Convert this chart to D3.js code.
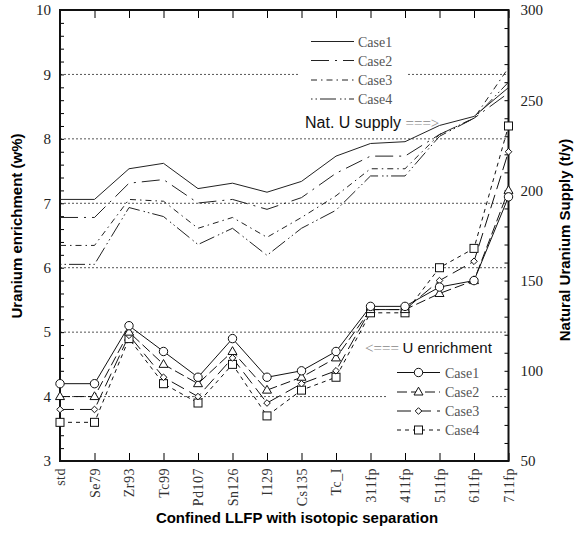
<html>
<head>
<script src="https://d3js.org/d3.v7.min.js"></script>
<style>
body {margin: 0; background: white;}
.num {font-family: "Liberation Serif", serif; font-size: 15px; fill: #222;}
.cat {font-family: "Liberation Serif", serif; font-size: 14px; fill: #333; letter-spacing: 0.5px;}
.title {font-family: "Liberation Sans", Arial, sans-serif; font-size: 15px; font-weight: bold; fill: #000;}
.leg {font-family: "Liberation Serif", serif; font-size: 14px; fill: #555;}
.note {font-family: "Liberation Sans", Arial, sans-serif; fill: #111;}
</style>
</head>
<body>
<svg width="574" height="533"></svg>
<script>

// categories along the x axis
var categories = ["std", "Se79", "Zr93", "Tc99", "Pd107", "Sn126", "I129", "Cs135", "Tc_I", "311fp", "411fp", "511fp", "611fp", "711fp"];

// natural uranium supply (t/y), right axis
var supplyCase1 = [195, 195, 212, 215, 201, 204, 199, 205, 219, 226, 227, 236, 241, 257];
var supplyCase2 = [185, 185, 204, 206, 193, 195, 189.5, 196, 209.5, 219, 219, 231, 240, 254];
var supplyCase3 = [169.5, 169.5, 195, 194, 179, 185, 174, 185, 197, 212, 212, 231, 240, 268];
var supplyCase4 = [159, 159, 190.5, 185.5, 170, 179, 164, 179, 189, 208, 208, 230, 240, 260];

// uranium enrichment (w%), left axis
var enrichCase1 = [4.2, 4.2, 5.1, 4.7, 4.3, 4.9, 4.3, 4.4, 4.7, 5.4, 5.4, 5.7, 5.8, 7.1];
var enrichCase2 = [4.0, 4.0, 5.0, 4.5, 4.2, 4.7, 4.1, 4.3, 4.6, 5.35, 5.35, 5.6, 5.8, 7.2];
var enrichCase3 = [3.8, 3.8, 4.95, 4.3, 4.0, 4.6, 3.9, 4.2, 4.4, 5.35, 5.35, 5.8, 6.1, 7.8];
var enrichCase4 = [3.6, 3.6, 4.9, 4.2, 3.9, 4.5, 3.7, 4.1, 4.3, 5.3, 5.3, 6.0, 6.3, 8.2];

var caseNames = ["Case1", "Case2", "Case3", "Case4"];

// tick labels
var leftTicks = [3, 4, 5, 6, 7, 8, 9, 10];
var rightTicks = [50, 100, 150, 200, 250, 300];
var gridValues = [4, 5, 6, 7, 8, 9];

var plotL = 60, plotR = 508.5, plotT = 10, plotB = 461;
var svg = d3.select("svg");

var x = d3.scalePoint().domain(categories).range([plotL, plotR]);
var yL = d3.scaleLinear().domain([3, 10]).range([plotB, plotT]);
var yR = d3.scaleLinear().domain([50, 300]).range([plotB, plotT]);

var supplyDash = [null, "18,6,2,6", "6,4,1.5,4", "1.5,3,1.5,3,16,4"];
var enrichDash = [null, "10,4", "14,6", "4,4"];

// dotted grid lines
svg.append("g").selectAll("line")
  .data(gridValues)
  .enter().append("line")
    .attr("x1", plotL).attr("x2", plotR)
    .attr("y1", function(d) { return yL(d); })
    .attr("y2", function(d) { return yL(d); })
    .attr("stroke", "#555")
    .attr("stroke-width", 1)
    .attr("stroke-dasharray", "2,2");

// legend backgrounds cut the grid lines
svg.append("rect").attr("x", 298).attr("y", 28).attr("width", 109).attr("height", 80).attr("fill", "white");
svg.append("rect").attr("x", 388).attr("y", 337).attr("width", 104).attr("height", 104).attr("fill", "white");

// minor ticks, left (inward)
var minorLeft = d3.range(3, 10.001, 0.2);
svg.append("g")
  .attr("transform", "translate(" + plotL + ",0)")
  .call(d3.axisRight(yL).tickValues(minorLeft).tickSize(4).tickFormat(""))
  .call(function(g) { g.select(".domain").remove(); });

// minor ticks, right (inward)
var minorRight = d3.range(50, 300.001, 10);
svg.append("g")
  .attr("transform", "translate(" + plotR + ",0)")
  .call(d3.axisLeft(yR).tickValues(minorRight).tickSize(4).tickFormat(""))
  .call(function(g) { g.select(".domain").remove(); });

// category ticks top and bottom
svg.append("g")
  .attr("transform", "translate(0," + plotB + ")")
  .call(d3.axisTop(x).tickSize(8).tickFormat(""))
  .call(function(g) { g.select(".domain").remove(); });
svg.append("g")
  .attr("transform", "translate(0," + plotT + ")")
  .call(d3.axisBottom(x).tickSize(8).tickFormat(""))
  .call(function(g) { g.select(".domain").remove(); });

// left labels
svg.append("g")
  .attr("transform", "translate(" + plotL + ",0)")
  .call(d3.axisLeft(yL).tickValues(leftTicks).tickSize(0).tickPadding(9).tickFormat(d3.format("d")))
  .call(function(g) {
    g.select(".domain").remove();
    g.selectAll("text").attr("class", "num").attr("font-family", null).attr("font-size", null).attr("fill", null);
  });

// right labels
svg.append("g")
  .attr("transform", "translate(" + plotR + ",0)")
  .call(d3.axisRight(yR).tickValues(rightTicks).tickSize(0).tickPadding(12).tickFormat(d3.format("d")))
  .call(function(g) {
    g.select(".domain").remove();
    g.selectAll("text").attr("class", "num").attr("font-family", null).attr("font-size", null).attr("fill", null);
  });

// category labels, rotated
svg.append("g").selectAll("text")
  .data(categories)
  .enter().append("text")
    .attr("class", "cat")
    .attr("transform", function(d) { return "translate(" + (x(d) + 5) + ",468) rotate(-90)"; })
    .attr("text-anchor", "end")
    .text(function(d) { return d; });

// frame
svg.append("rect")
  .attr("x", plotL).attr("y", plotT)
  .attr("width", plotR - plotL).attr("height", plotB - plotT)
  .attr("fill", "none").attr("stroke", "#111").attr("stroke-width", 2);

// supply lines
var supplyLine = d3.line()
  .x(function(d, i) { return x(categories[i]); })
  .y(function(d) { return yR(d); });

[supplyCase1, supplyCase2, supplyCase3, supplyCase4].forEach(function(s, k) {
  svg.append("path")
    .datum(s)
    .attr("fill", "none")
    .attr("stroke", "#222")
    .attr("stroke-width", 1)
    .attr("stroke-dasharray", supplyDash[k])
    .attr("d", supplyLine);
});

// enrichment lines
var enrichLine = d3.line()
  .x(function(d, i) { return x(categories[i]); })
  .y(function(d) { return yL(d); });

var enrichSeries = [enrichCase1, enrichCase2, enrichCase3, enrichCase4];
enrichSeries.forEach(function(s, k) {
  svg.append("path")
    .datum(s)
    .attr("fill", "none")
    .attr("stroke", "#111")
    .attr("stroke-width", 1)
    .attr("stroke-dasharray", enrichDash[k])
    .attr("d", enrichLine);
});

// marker shapes
function marker(g, k, cx, cy) {
  if (k === 0) {
    g.append("circle").attr("cx", cx).attr("cy", cy).attr("r", 4.2);
  } else if (k === 1) {
    g.append("path").attr("d", "M" + cx + "," + (cy - 4.8) + "L" + (cx + 4.5) + "," + (cy + 3) + "L" + (cx - 4.5) + "," + (cy + 3) + "Z");
  } else if (k === 2) {
    g.append("path").attr("d", "M" + cx + "," + (cy - 3.3) + "L" + (cx + 3.3) + "," + cy + "L" + cx + "," + (cy + 3.3) + "L" + (cx - 3.3) + "," + cy + "Z");
  } else {
    g.append("rect").attr("x", cx - 4).attr("y", cy - 4).attr("width", 8).attr("height", 8);
  }
}

var markers = svg.append("g").attr("fill", "white").attr("stroke", "#111").attr("stroke-width", 1);
[3, 2, 1, 0].forEach(function(k) {
  enrichSeries[k].forEach(function(v, i) {
    marker(markers, k, x(categories[i]), yL(v));
  });
});

// upper legend
var upLeg = svg.append("g");
var upY = [41.5, 60.5, 80, 99];
caseNames.forEach(function(name, k) {
  upLeg.append("line")
    .attr("x1", 311).attr("x2", 354)
    .attr("y1", upY[k]).attr("y2", upY[k])
    .attr("stroke", "#222").attr("stroke-width", 1)
    .attr("stroke-dasharray", supplyDash[k]);
  upLeg.append("text").attr("class", "leg")
    .attr("x", 358).attr("y", upY[k] + 5).text(name);
});

// lower legend
var lowLeg = svg.append("g");
var lowY = [372.5, 392, 411, 430];
caseNames.forEach(function(name, k) {
  lowLeg.append("line")
    .attr("x1", 397).attr("x2", 440)
    .attr("y1", lowY[k]).attr("y2", lowY[k])
    .attr("stroke", "#111").attr("stroke-width", 1)
    .attr("stroke-dasharray", enrichDash[k]);
  var mg = lowLeg.append("g").attr("fill", "white").attr("stroke", "#111");
  marker(mg, k, 418.5, lowY[k]);
  lowLeg.append("text").attr("class", "leg")
    .attr("x", 445).attr("y", lowY[k] + 5).text(name);
});

// annotations
var nat = svg.append("text").attr("class", "note").attr("x", 305).attr("y", 128).style("font-size", "16px");
nat.append("tspan").text("Nat. U supply ");
nat.append("tspan").attr("fill", "#888").style("font-family", "Liberation Serif").style("font-size", "15px").text("===>");

var enr = svg.append("text").attr("class", "note").attr("x", 365).attr("y", 353).style("font-size", "15px");
enr.append("tspan").attr("fill", "#888").style("font-family", "Liberation Serif").style("font-size", "15px").text("<=== ");
enr.append("tspan").text("U enrichment");

// axis titles
svg.append("text").attr("class", "title")
  .attr("text-anchor", "middle")
  .attr("x", 297).attr("y", 523)
  .text("Confined LLFP with isotopic separation");

svg.append("text").attr("class", "title")
  .attr("text-anchor", "middle")
  .attr("transform", "translate(22,226) rotate(-90)")
  .text("Uranium enrichment (w%)");

svg.append("text").attr("class", "title")
  .attr("text-anchor", "middle")
  .attr("transform", "translate(570,240) rotate(-90)")
  .text("Natural Uranium Supply (t/y)");

</script>
</body>
</html>
